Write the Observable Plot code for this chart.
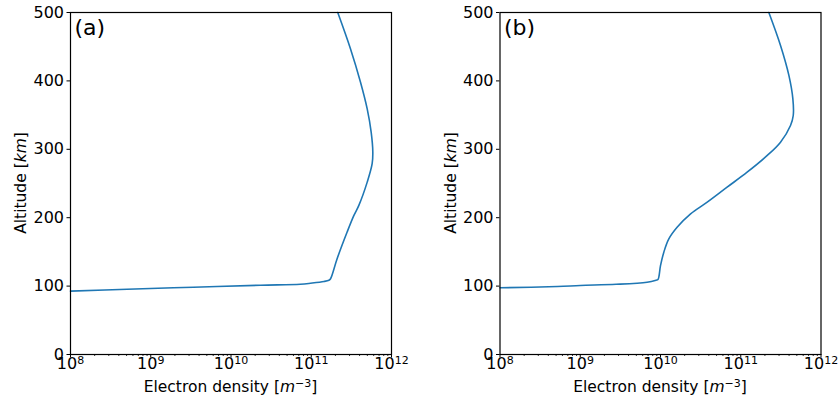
<!DOCTYPE html>
<html>
<head>
<meta charset="utf-8">
<script src="https://cdn.jsdelivr.net/npm/d3@7"></script>
<script src="https://cdn.jsdelivr.net/npm/@observablehq/plot@0.6"></script>
<style>
  body { margin: 0; background: white; }
  #wrap { position: relative; width: 838px; height: 403px; background: white; }
  #wrap svg { position: absolute; top: 0; }
</style>
</head>
<body>
<div id="wrap"></div>
<script>
// Panel (a)
const altitudeA = [92.6, 95.4, 98.4, 101.3, 102.8, 104.2, 106.7, 108.6, 110.7, 140, 179, 203, 218, 252, 279, 296, 325, 359, 398, 447, 500];
const densityA  = [1.0e8, 5.1e8, 3.4e9, 2.33e10, 7.3e10, 9.8e10, 1.44e11, 1.66e11, 1.74e11, 2.1e11, 2.8e11, 3.39e11, 3.92e11, 4.98e11, 5.74e11, 5.85e11, 5.58e11, 4.98e11, 4.11e11, 3.08e11, 2.14e11];
// Panel (b)
const altitudeB = [97.5, 99.4, 100.9, 102.6, 105.7, 108.6, 109.6, 130, 149.6, 169, 186, 205.7, 222.7, 244.6, 266.5, 291, 310.4, 334.8, 349.4, 373.8, 408, 451.8, 500];
const densityB  = [1.0e8, 5.2e8, 1.0e9, 2.8e9, 6.8e9, 8.8e9, 9.3e9, 1.0e10, 1.1e10, 1.27e10, 1.61e10, 2.37e10, 3.82e10, 6.76e10, 1.2e11, 2.14e11, 3.13e11, 4.17e11, 4.51e11, 4.46e11, 3.98e11, 3.13e11, 2.24e11];

const xTicks = [1e8, 1e9, 1e10, 1e11, 1e12];
const yTicks = [0, 100, 200, 300, 400, 500];
const panelLabels = ["(a)", "(b)"];
const xLabel = ["Electron density [", "m", "\u22123", "]"];
const yLabel = ["Altitude [", "km", "]"];

const fmtPow = d => "10^" + Math.round(Math.log10(d));
const minorTicks = [];
for (let e = 8; e < 12; e++) for (let m = 2; m <= 9; m++) minorTicks.push(m * Math.pow(10, e));

function panel(density, altitude, label, width, marginLeft, marginRight) {
  const data = density.map((d, i) => ({d, a: altitude[i]}));
  const svg = Plot.plot({
    width, height: 403,
    marginLeft, marginRight, marginTop: 12, marginBottom: 49,
    style: {fontFamily: "DejaVu Sans", fontSize: "16px", color: "black", background: "white"},
    x: {type: "log", domain: [1e8, 1e12], label: null},
    y: {domain: [0, 500], label: null},
    marks: [
      Plot.line(data, {x: "d", y: "a", stroke: "#1f77b4", strokeWidth: 1.6, curve: "catmull-rom"}),
      Plot.axisX(minorTicks, {tickSize: 2, tickFormat: () => "", label: null, strokeWidth: 0.8}),
      Plot.axisX(xTicks, {tickSize: 3.5, tickPadding: 0, tickFormat: fmtPow, label: null, strokeWidth: 1, ariaLabel: "xmajor"}),
      Plot.axisY(yTicks, {tickSize: 3.5, tickPadding: 3, label: null, strokeWidth: 1}),
      Plot.frame({stroke: "black", strokeWidth: 1.2}),
      Plot.text([label], {frameAnchor: "top-left", dx: 4, dy: 7, fontSize: 22, textAnchor: "start", lineAnchor: "top"})
    ]
  });
  const s = d3.select(svg);
  // turn "10^n" tick labels into base + superscript
  s.selectAll("text").each(function() {
    const t = d3.select(this);
    if (t.selectAll("tspan").size() > 0) return;
    const str = t.text();
    const m = /^10\^(\d+)$/.exec(str);
    if (!m) return;
    t.text("");
    t.append("tspan").text("10");
    t.append("tspan").attr("font-size", "11px").attr("dy", "-5.5").text(m[1]);
  });
  const cx = marginLeft + (width - marginLeft - marginRight) / 2;
  const tx = s.append("text").attr("x", cx).attr("y", 392).attr("text-anchor", "middle")
    .attr("font-family", "DejaVu Sans").attr("font-size", 15.5).attr("fill", "black");
  tx.append("tspan").text(xLabel[0]);
  tx.append("tspan").attr("font-style", "italic").text(xLabel[1]);
  tx.append("tspan").attr("font-size", "11px").attr("dy", "-5.5").text(xLabel[2]);
  tx.append("tspan").attr("dy", "5.5").text(xLabel[3]);
  const ty = s.append("text").attr("transform", `translate(${marginLeft - 44},183) rotate(-90)`)
    .attr("text-anchor", "middle").attr("font-family", "DejaVu Sans").attr("font-size", 15.5).attr("fill", "black");
  ty.append("tspan").text(yLabel[0]);
  ty.append("tspan").attr("font-style", "italic").text(yLabel[1]);
  ty.append("tspan").text(yLabel[2]);
  return svg;
}

const wrap = document.getElementById("wrap");
const s1 = panel(densityA, altitudeA, panelLabels[0], 420, 70, 29);
s1.style.left = "0px";
wrap.appendChild(s1);
const s2 = panel(densityB, altitudeB, panelLabels[1], 418, 79.5, 17.5);
s2.style.left = "420px";
wrap.appendChild(s2);
</script>
</body>
</html>
